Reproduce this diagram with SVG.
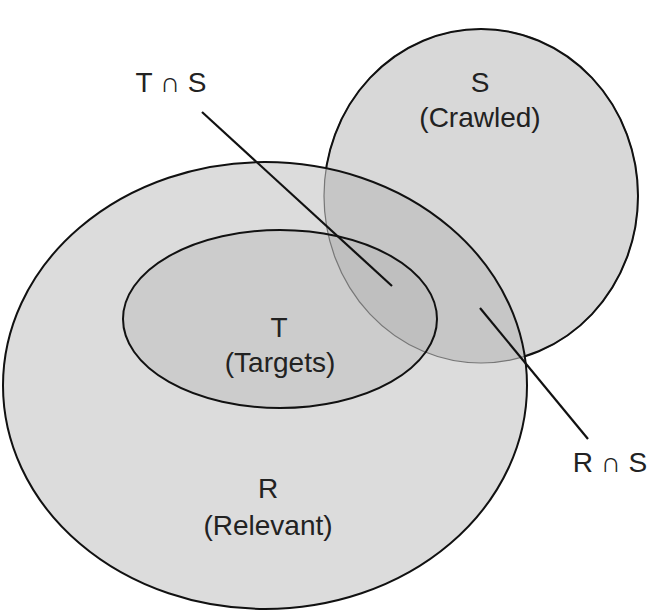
<svg xmlns="http://www.w3.org/2000/svg" width="652" height="611" viewBox="0 0 652 611">
  <style>
    .lbl { font-family: "Liberation Sans", Arial, sans-serif; font-size: 28px; fill: #222; text-anchor: middle; }
    .edge { fill: none; stroke: #111; stroke-width: 2; }
    .lead { stroke: #111; stroke-width: 2.2; fill: none; }
  </style>
  <defs>
    <ellipse id="shapeR" cx="265" cy="385.5" rx="262" ry="223.5"/>
    <ellipse id="shapeT" cx="280" cy="319" rx="157" ry="89"/>
    <ellipse id="shapeS" cx="481" cy="196" rx="157" ry="167"/>
    <clipPath id="inR"><use href="#shapeR"/></clipPath>
    <clipPath id="inT"><use href="#shapeT"/></clipPath>
    <clipPath id="outR">
      <path clip-rule="evenodd" d="M0 0H652V611H0Z M3 385.5a262 223.5 0 1 0 524 0a262 223.5 0 1 0 -524 0Z"/>
    </clipPath>
  </defs>

  <!-- region fills -->
  <g id="fills">
    <use href="#shapeS" fill="#d8d8d8"/>
    <use href="#shapeR" fill="#dcdcdc"/>
    <use href="#shapeS" fill="#c6c6c6" clip-path="url(#inR)"/>
    <use href="#shapeT" fill="#cccccc"/>
    <use href="#shapeS" fill="#bfbfbf" clip-path="url(#inT)"/>
  </g>

  <!-- outlines -->
  <g id="node-S">
    <use href="#shapeS" fill="none" stroke="#777" stroke-width="1.2"/>
    <use href="#shapeS" class="edge" clip-path="url(#outR)"/>
    <text class="lbl" x="480" y="92">S</text>
    <text class="lbl" x="480" y="127">(Crawled)</text>
  </g>
  <g id="node-R">
    <use href="#shapeR" class="edge"/>
    <text class="lbl" x="268" y="498">R</text>
    <text class="lbl" x="268" y="535">(Relevant)</text>
  </g>
  <g id="node-T">
    <use href="#shapeT" class="edge"/>
    <text class="lbl" x="279" y="337">T</text>
    <text class="lbl" x="280" y="372">(Targets)</text>
  </g>

  <!-- leader lines to intersection labels -->
  <g id="connectors">
    <line class="lead" x1="202" y1="112" x2="392" y2="286"/>
    <line class="lead" x1="480" y1="308" x2="588" y2="439"/>
  </g>
  <g id="label-TS">
    <text class="lbl" x="171" y="92">T ∩ S</text>
  </g>
  <g id="label-RS">
    <text class="lbl" x="610" y="472">R ∩ S</text>
  </g>
</svg>
